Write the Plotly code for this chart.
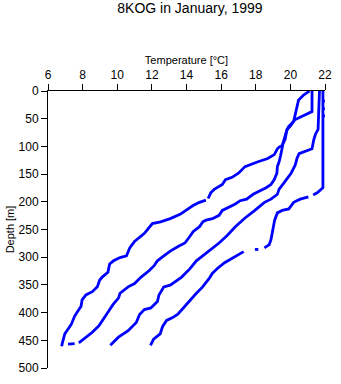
import plotly.graph_objects as go

# Temperature profiles (°C) vs depth (m); None marks gaps in the record
t1 = [21.1, 20.75, 20.47, 20.38, 20.28, 20.19, 20.0, 19.81, 19.72, 19.63, 19.53, 19.35, 19.25, 19.07,
      18.69, 18.13, 17.38, 17.0, 16.63, 16.25, 16.07, 15.6, 15.41, 15.25, None, 15.12, 14.75, 14.38,
      14.0, 13.63, 13.06, 12.5, 12.03, 11.75, 11.57, 11.0, 10.72, 10.53, 10.16, 9.79, 9.56, 9.46,
      9.13, 8.98, 8.85, 8.56, 8.19, 7.97, 7.91, 7.72, 7.54, 7.35, 7.16, 6.97, 6.82, 6.79]
d1 = [0, 7.6, 16.4, 31, 42.7, 54.5, 63.3, 69.1, 77.9, 89.7, 98.5, 101.3, 104.3, 114.8,
      121.9, 127.7, 136.5, 148.3, 155.8, 160, 168.8, 177.6, 183.4, 194, None, 197, 201, 206.8,
      215.6, 222.7, 230.4, 236.2, 239.2, 250.8, 256.8, 271.4, 283.2, 297.7, 300.7, 306.5, 312.3, 327.1,
      335.9, 341.7, 353.5, 362.3, 368.1, 376.9, 388.7, 397.5, 406.3, 420.9, 429.7, 438.5, 456, 460.8]

t2 = [21.25, 21.25, 20.28, 20.1, 19.9, 19.78, 19.7, 19.57, 19.53, 19.44, 19.35, 19.25, 19.22, 19.07,
      18.88, 18.6, 18.22, 17.85, 17.47, 17.1, 16.82, 16.44, 16.07, 15.88, 15.5, 15.13, 14.94, 14.75,
      14.38, 14.19, 13.91, 13.54, 13.06, 12.69, 12.32, 12.13, 11.85, 11.38, 11.0, 10.63, 10.16, 10.07,
      9.75, 9.5, 9.2, 8.94, 8.56, 8.1, 7.78, None, 7.54, 7.16]
d2 = [0, 37, 51.5, 57.3, 64, 72.6, 86.7, 95.5, 104.3, 116, 127.7, 136.5, 148.3, 160,
      168.8, 174.6, 180.4, 186.4, 195.2, 198, 204, 209.8, 215.6, 224.4, 230.4, 233.2, 236.2, 245,
      253.8, 262.6, 274.4, 280.2, 289, 297.7, 306.5, 315.3, 324.1, 335.9, 347.5, 353.5, 365.1, 373.9,
      385.7, 397.5, 412.1, 423.9, 435.5, 447.3, 454.8, None, 456, 457]

t3 = [21.68, 21.6, 21.45, 21.35, 21.25, 20.9, 20.5, 20.38, 20.28, 20.05, 19.81, 19.63, 19.35, 19.25,
      18.88, 18.5, 17.95, 17.38, 16.82, 16.35, 15.88, 15.41, 14.94, 14.57, 14.19, 13.72, 13.06, 12.69,
      12.41, 12.32, 11.94, 11.57, 11.29, 11.1, 10.63, 10.07, 9.6]
d3 = [0, 69.1, 78, 88, 104.3, 108.5, 113.1, 121.9, 133.7, 148, 157.1, 165.8, 177, 186.4,
      195.2, 201, 215.6, 229.2, 245, 260.8, 274.4, 286, 297.7, 306.5, 321.1, 335.9, 350.5, 353.5,
      368.1, 379.9, 391.5, 394.5, 403.3, 417.9, 432.6, 444.3, 459]

t4 = [21.88, 21.88, 21.97, 21.88, 21.88, 21.97, 21.88, 21.88, 21.97, 21.88, 21.88, 21.6, 21.32, None,
      21.04, 20.57, 20.19, 19.91, 19.53, 19.25, 19.09, 19.01, 18.93, 18.88, 18.78, 18.5, None,
      18.15, 17.95, None, 17.3, 16.9, 16.5, 16.2, 15.8, 15.5, 15.3, 14.92, 14.57, 14.19, 13.82,
      13.5, 13.2, 12.85, 12.62, 12.48, 12.1, 11.92]
d4 = [0, 17, 18, 19, 31, 32, 33, 44, 45, 46, 174.6, 182.5, 187.8, None,
      191, 195.2, 201, 212.8, 215.6, 220, 233.2, 248, 259.6, 268.4, 277.2, 283.2, None,
      286, 286, None, 290, 297, 304, 310, 320, 329, 338.7, 354, 365.1, 378, 392,
      403, 409.1, 414, 425, 438.5, 448, 459]

temps = [t1, t2, t3, t4]
depths = [d1, d2, d3, d4]

x_ticks = list(range(6, 23, 2))
y_ticks = list(range(0, 501, 50))

FONT = "Liberation Sans, Arial, Helvetica, sans-serif"

fig = go.Figure()
for t, d in zip(temps, depths):
    fig.add_trace(go.Scatter(x=t, y=d, mode="lines",
                             line=dict(color="#0000ff", width=2.8),
                             connectgaps=False, showlegend=False, hoverinfo="skip"))

fig.update_layout(
    width=341, height=384,
    margin=dict(l=48, r=9, t=91, b=9),
    paper_bgcolor="white", plot_bgcolor="white",
    font=dict(family=FONT, size=12, color="black"),
    title=dict(text="8KOG in January, 1999", x=0.557, xanchor="center",
               y=1 - 8 / 384, yanchor="middle", yref="container",
               font=dict(family=FONT, size=14, color="black")),
    xaxis=dict(side="top", range=[6, 22], tickvals=x_ticks,
               ticktext=[str(v) for v in x_ticks],
               ticks="outside", ticklen=6, tickcolor="black",
               showline=True, linecolor="black", linewidth=1,
               showgrid=False, zeroline=False,
               tickfont=dict(size=12),
               title=dict(text="Temperature [°C]", font=dict(size=11), standoff=1)),
    yaxis=dict(range=[500, 0], tickvals=y_ticks,
               ticktext=[str(v) for v in y_ticks],
               ticks="outside", ticklen=6, tickcolor="black",
               showline=True, linecolor="black", linewidth=1,
               showgrid=False, zeroline=False,
               tickfont=dict(size=12),
               title=dict(text="Depth [m]", font=dict(size=11), standoff=1)),
)

fig.write_html("out.html")
